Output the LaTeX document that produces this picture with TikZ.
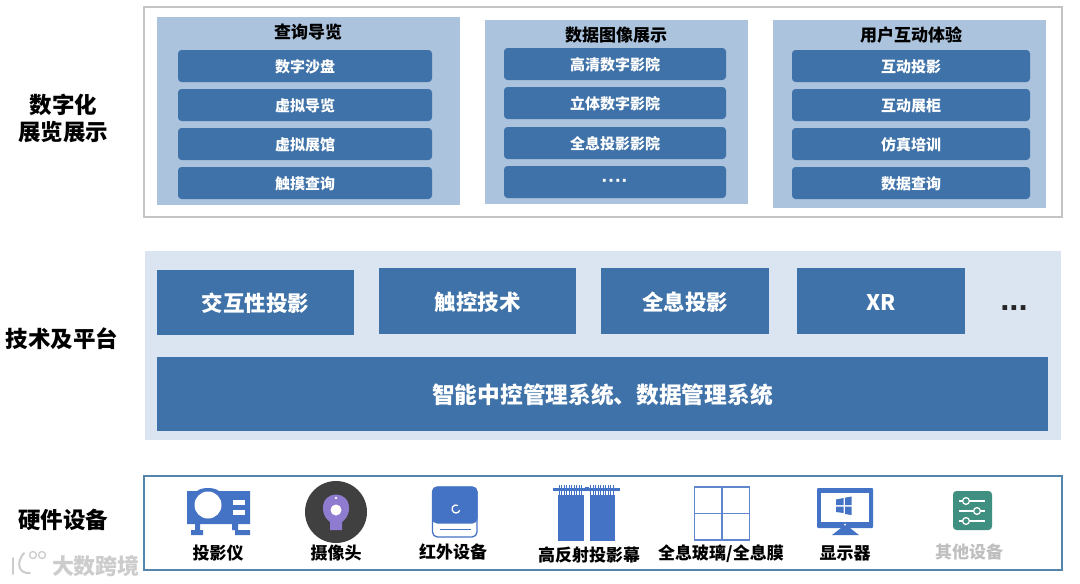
\documentclass[tikz,border=0pt]{standalone}
\usepackage{fontspec}
\setmainfont{Noto Sans CJK SC}
\newfontfamily\latinf{Liberation Sans}
\begin{document}
\begin{tikzpicture}[x=1pt,y=-1pt,
 every node/.style={font=\bfseries},
 panel/.style={fill=panelblue,draw=none,inner sep=0pt},
 item/.style={fill=deepblue,draw=none,rounded corners=3.5pt,text=white,inner sep=0pt,font=\bfseries\fontsize{15}{17}\selectfont},
 block/.style={fill=deepblue,draw=none,text=white,inner sep=0pt,font=\bfseries\fontsize{21.5}{24}\selectfont},
 bigblock/.style={block,font=\bfseries\fontsize{22.7}{25}\selectfont},
 head/.style={text=black,inner sep=0pt,font=\bfseries\fontsize{17}{19}\selectfont},
 side/.style={text=black,inner sep=0pt,align=center,font=\bfseries\fontsize{22.5}{27}\selectfont},
 hw/.style={text=black,inner sep=0pt,font=\bfseries\fontsize{17}{19}\selectfont},
 iconfill/.style={fill=iconblue,draw=none},
 iconline/.style={draw=iconblue,line width=1.3pt}
]
\definecolor{panelblue}{HTML}{ABC3DC}
\definecolor{deepblue}{HTML}{3F72A8}
\definecolor{paleblue}{HTML}{DAE5F1}
\definecolor{iconblue}{HTML}{4472C4}
\definecolor{framegray}{HTML}{C4C4C4}
\definecolor{frameblue}{HTML}{5385AD}
\definecolor{camdark}{HTML}{404040}
\definecolor{campurple}{HTML}{8F7BD0}
\definecolor{setgreen}{HTML}{3F9080}
\useasboundingbox (0,0) rectangle (1080,584);
\fill[white] (0,0) rectangle (1080,584);
\newcommand{\bx}[7]{\path[#2] (#3,#4) rectangle (#5,#6);\node[#2,fill=none,minimum size=0pt,yshift=-1pt] (#1) at ({(#3+#5)/2},{(#4+#6)/2}) {#7};}
% top
\node[draw=framegray,line width=1.3pt,minimum width=918pt,minimum height=210pt,inner sep=0pt] (topframe) at (603,112) {};
\node[panel,minimum width=303pt,minimum height=188pt] (p1) at (308.5,111) {};
\node[panel,minimum width=263pt,minimum height=184pt] (p2) at (616.5,112) {};
\node[panel,minimum width=273pt,minimum height=188pt] (p3) at (909.5,114) {};
\node[head] (h1) at (308,32) {查询导览};
\node[head] (h2) at (616,35) {数据图像展示};
\node[head] (h3) at (911,35) {用户互动体验};
\bx{a1}{item}{178}{50}{432}{82}{数字沙盘}
\bx{a2}{item}{178}{89}{432}{121}{虚拟导览}
\bx{a3}{item}{178}{128}{432}{160}{虚拟展馆}
\bx{a4}{item}{178}{167}{432}{199}{触摸查询}
\bx{b1}{item}{504}{48}{726}{80}{高清数字影院}
\bx{b2}{item}{504}{87}{726}{119}{立体数字影院}
\bx{b3}{item}{504}{127}{726}{159}{全息投影影院}
\bx{b4}{item}{504}{166}{726}{198}{\latinf\fontsize{20}{22}\selectfont ····}
\bx{c1}{item}{792}{50}{1030}{82}{互动投影}
\bx{c2}{item}{792}{89}{1030}{121}{互动展柜}
\bx{c3}{item}{792}{128}{1030}{160}{仿真培训}
\bx{c4}{item}{792}{167}{1030}{199}{数据查询}
\node[side] (s1) at (63.5,118) {数字化\\展览展示};
% middle
\node[fill=paleblue,inner sep=0pt,minimum width=916pt,minimum height=189pt] (mid) at (603,345.5) {};
\bx{t1}{block}{157}{270}{354}{335}{交互性投影}
\bx{t2}{block}{379}{268}{576}{334}{触控技术}
\bx{t3}{block}{601}{268}{769}{334}{全息投影}
\bx{t4}{block}{797}{268}{965}{334}{XR}
\node[text=black!85,inner sep=0pt,font=\latinf\bfseries\fontsize{33}{35}\selectfont] (dots) at (1014,308) {...};
\bx{t5}{bigblock}{157}{357}{1048}{431}{智能中控管理系统、数据管理系统}
\node[side] (s2) at (62,339) {技术及平台};
% bottom
\node[draw=frameblue,line width=1.4pt,fill=white,minimum width=918pt,minimum height=94pt,inner sep=0pt] (botframe) at (603,523) {};
\node[side] (s3) at (63.5,520) {硬件设备};
% projector icon
\fill[iconblue] (187,491) -- (197,491) .. controls (202,487) and (214,487) .. (219,491) -- (250,491) -- (250,524) -- (238,524) -- (238,530) -- (250,530) -- (250,535) -- (235,535) -- (235,530) -- (232,530) -- (232,524) -- (200,524) -- (200,530) -- (203,530) -- (203,535) -- (191,535) -- (191,530) -- (195,530) -- (195,524) -- (187,524) -- cycle;
\fill[white] (208,505) circle (13.5pt);
\fill[white] (233,500) rectangle (245,505);
\fill[white] (233,510) rectangle (245,515);
\node[hw] (l1) at (218,553) {投影仪};
% camera icon
\fill[camdark] (336,512) circle (31pt);
\fill[campurple] (323,508) .. controls (323,490) and (349,490) .. (349,508) .. controls (349,517) and (344,520) .. (342,522) -- (342,530) -- (330,530) -- (330,522) .. controls (328,520) and (323,517) .. (323,508) -- cycle;
\fill[white] (336,510) circle (5.5pt);
\fill[white] (336,498) circle (1.4pt);
\node[hw] (l2) at (336,553) {摄像头};
% infrared icon
\draw[iconblue,line width=1.3pt,fill=white,rounded corners=5pt] (432.5,487) rectangle (477,537);
\path[iconfill,rounded corners=5pt] (432,486.5) -- (477.5,486.5) -- (477.5,523.5) -- (432,523.5) -- cycle;
\draw[iconblue,line width=1.2pt] (440,529.5) -- (471,529.5);
\draw[white,line width=1.3pt] (458,505.5) arc[start angle=60,end angle=340,radius=4pt];
\node[hw] (l3) at (453,552) {红外设备};
% curtain icon
\fill[iconblue] (553,487.5) rectangle (620,490.5);
\foreach \xx in {558.5,561,...,582,590,592.5,...,614}{\fill[iconblue] (\xx,485) rectangle ++(1.2,10);}
\fill[white] (584.5,484) rectangle (589,496);
\fill[iconblue] (585,487) rectangle (588.5,491);
\fill[iconblue] (558,495) rectangle (584,541);
\fill[iconblue] (590,495) rectangle (615,541);
\node[hw] (l4) at (589,555) {高反射投影幕};
% window icon
\draw[iconblue!85,line width=1.3pt] (694.5,487) rectangle (749.5,540);
\draw[iconblue!85,line width=1.3pt] (722,487) -- (722,540);
\draw[iconblue!85,line width=1.3pt] (694.5,513.5) -- (749.5,513.5);
\node[hw] (l5) at (721,554) {全息玻璃/全息膜};
% monitor icon
\fill[iconblue,rounded corners=1pt] (817,488) rectangle (873,528);
\fill[white] (821,492.5) rectangle (869,522);
\fill[iconblue] (841,528) -- (850,528) -- (859,535) -- (832,535) -- cycle;
\fill[white] (845,524.7) circle (1pt);
\fill[iconblue] (836,499.5) -- (843.5,498) -- (843.5,505) -- (836,505) -- cycle;
\fill[iconblue] (845,497.7) -- (851.5,496.5) -- (851.5,505) -- (845,505) -- cycle;
\fill[iconblue] (836,506.5) -- (843.5,506.5) -- (843.5,513) -- (836,512) -- cycle;
\fill[iconblue] (845,506.5) -- (851.5,506.5) -- (851.5,515) -- (845,514) -- cycle;
\node[hw] (l6) at (845,553) {显示器};
% settings icon
\fill[setgreen,rounded corners=3.5pt] (953,491) rectangle (992,530);
\begin{scope}[draw=white,line width=1.3pt]
\draw (959,501) -- (985,501); \draw (959,511) -- (985,511); \draw (959,521) -- (985,521);
\filldraw[fill=setgreen] (966,501) circle (3.4pt);
\filldraw[fill=setgreen] (977,511) circle (3.4pt);
\filldraw[fill=setgreen] (966,521) circle (3.4pt);
\end{scope}
\node[hw,text=black!25] (l7) at (969,552) {其他设备};
% watermark
\node[text=black!20,inner sep=0pt,font=\bfseries\fontsize{22}{24}\selectfont] (wm) at (96,566) {大数跨境};
\draw[black!20,line width=2pt,line cap=round] (13,558) -- (13,574);
\draw[black!20,line width=2pt,line cap=round] (30,573) .. controls (18,574) and (16,562) .. (24,553);
\draw[black!20,line width=1.3pt] (33,555) circle (3.5pt) (42,555) circle (3.5pt);
\end{tikzpicture}
\end{document}
